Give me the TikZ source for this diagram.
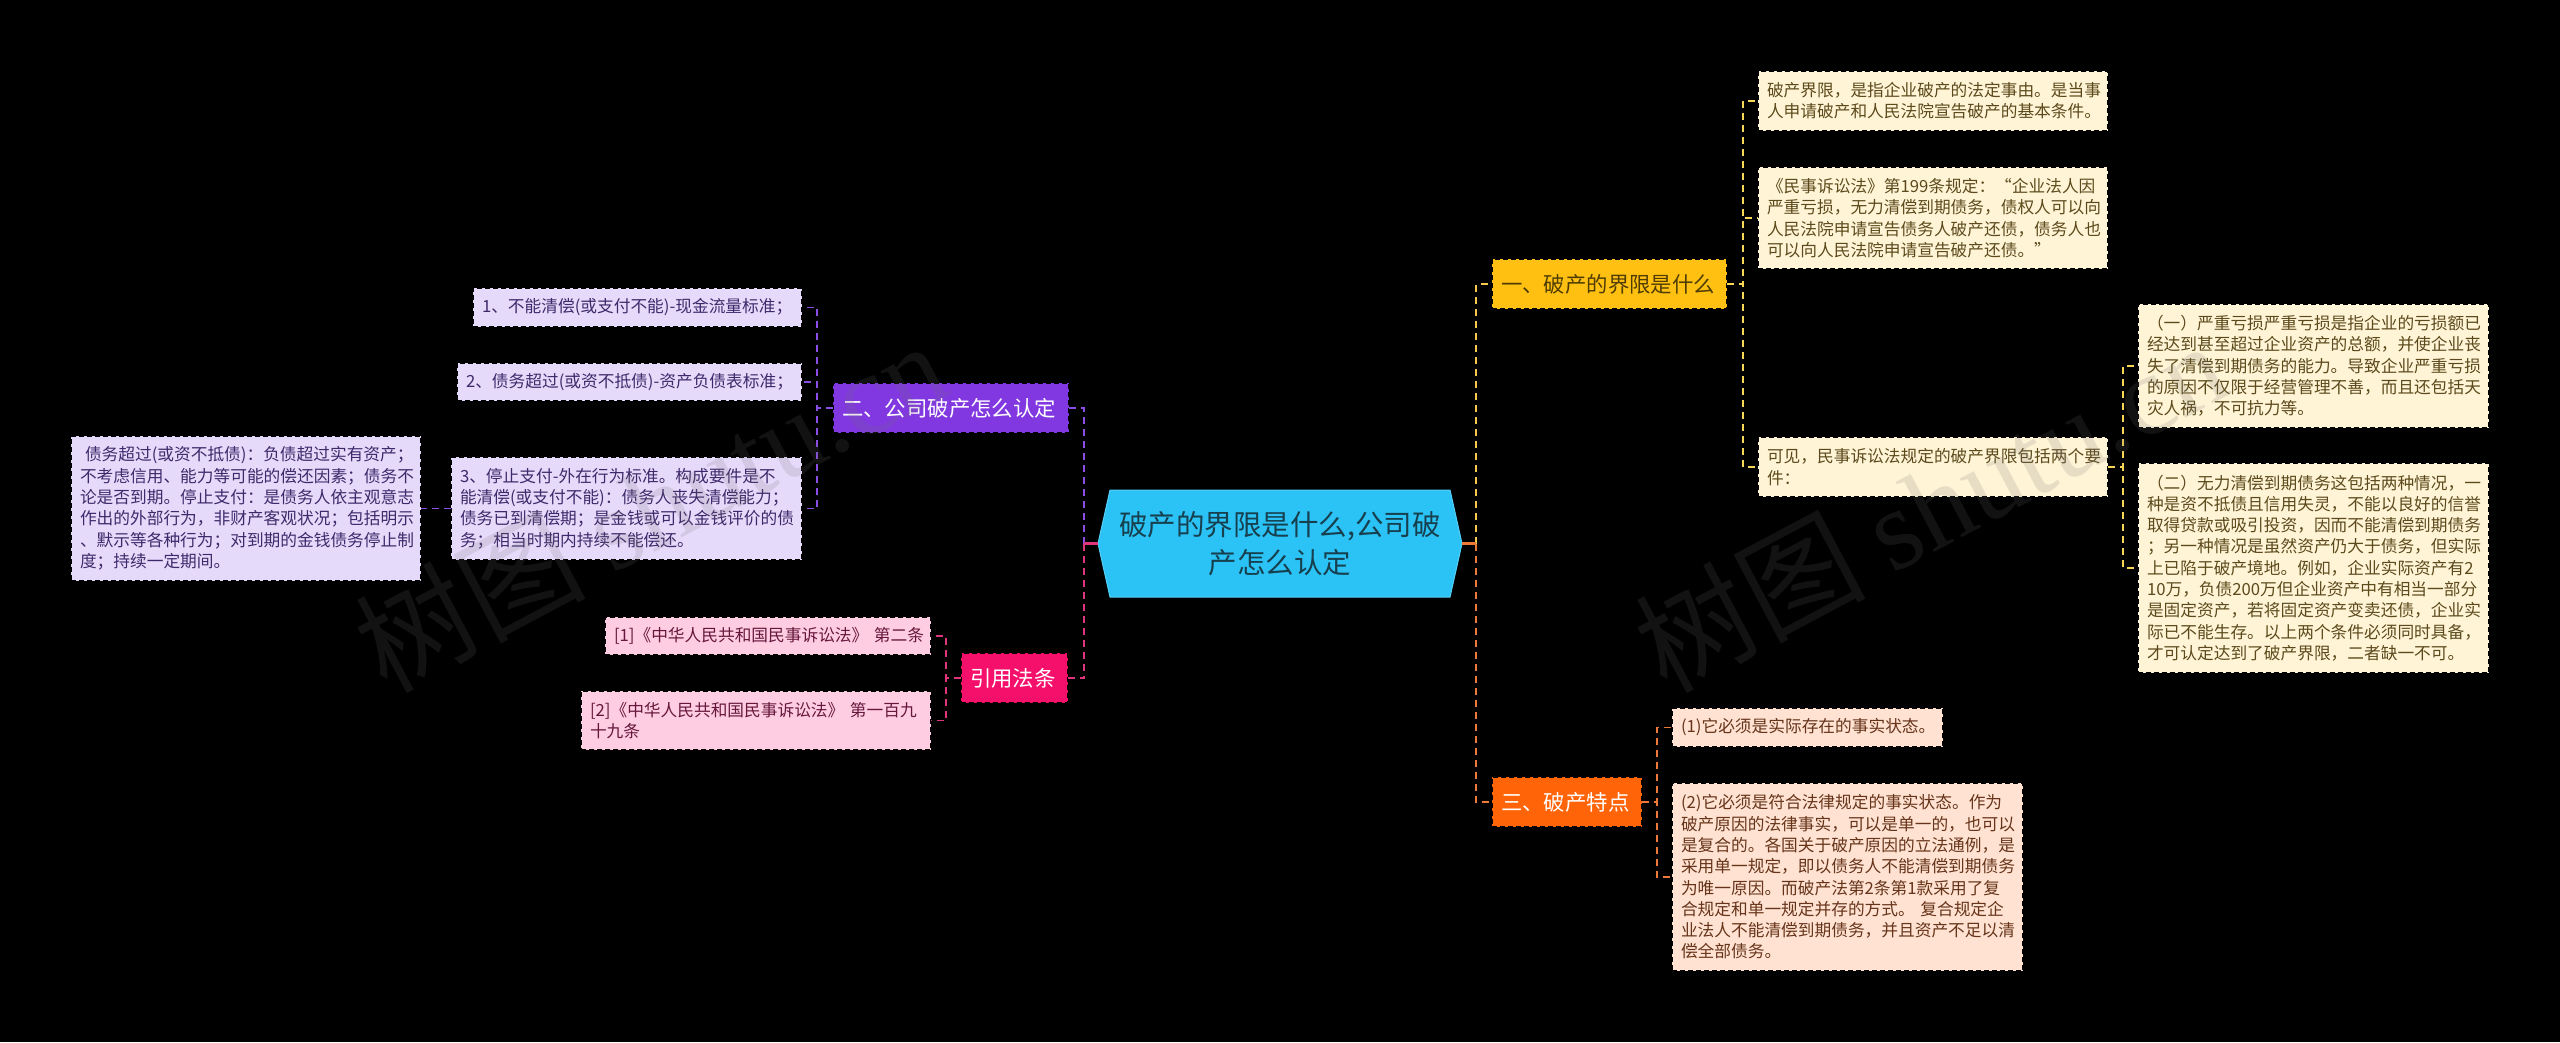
\documentclass[tikz,border=0pt]{standalone}
\usepackage{fontspec}
\setmainfont{Noto Sans CJK SC}
\newfontfamily\wmlatin{Liberation Serif}
\usetikzlibrary{calc}
\definecolor{rootc}{HTML}{2BC3F6}
\definecolor{roott}{HTML}{17404F}
\definecolor{yel}{HTML}{FFC012}
\definecolor{yelt}{HTML}{4F3D05}
\definecolor{pur}{HTML}{8238E0}
\definecolor{pnk}{HTML}{F5106C}
\definecolor{org}{HTML}{FF6408}
\definecolor{lyel}{HTML}{FFF4D6}
\definecolor{lpur}{HTML}{E6DAFB}
\definecolor{lpnk}{HTML}{FFCDE2}
\definecolor{lorg}{HTML}{FFE2D1}
\definecolor{tyel}{HTML}{5C4A1C}
\definecolor{tpur}{HTML}{3E2A6B}
\definecolor{tpnk}{HTML}{66183C}
\definecolor{torg}{HTML}{66341A}
\definecolor{cyel}{HTML}{F7D655}
\definecolor{cyelb}{HTML}{F6C84E}
\definecolor{cpur}{HTML}{8A4DE6}
\definecolor{cpnk}{HTML}{E0357C}
\definecolor{corg}{HTML}{EE7A3A}
\definecolor{wmgray}{HTML}{707070}
\tikzset{
  base/.style={draw=black,line width=1.6pt,dash pattern=on 5pt off 3pt,outer sep=0pt,anchor=north west,inner xsep=9pt,inner ysep=0pt,align=left},
  box/.style n args={2}{text width=#1pt-18pt,minimum height=#2pt},
  leaf/.style={base,font=\fontsize{16.7pt}{21.3pt}\selectfont},
  leafy/.style={leaf,fill=lyel,text=tyel},
  leafp/.style={leaf,fill=lpur,text=tpur},
  leafk/.style={leaf,fill=lpnk,text=tpnk},
  leafo/.style={leaf,fill=lorg,text=torg},
  branch/.style={base,font=\fontsize{21.4pt}{27pt}\selectfont},
  rootnode/.style={outer sep=0pt,inner sep=0pt,align=center,text=roott,minimum width=364pt,minimum height=107pt,font=\fontsize{28.5pt}{38pt}\selectfont},
  linkthin/.style={line width=1.5pt,dash pattern=on 7pt off 5pt},
  linkthick/.style={line width=2.4pt,dash pattern=on 7pt off 5pt},
  stub/.style={line width=2.4pt},
  wmark/.style={text=wmgray,text opacity=.17,rotate=28,font=\fontsize{115pt}{120pt}\selectfont}
}
\begin{document}
\begin{tikzpicture}[x=1pt,y=-1pt]
\useasboundingbox (0,0) rectangle (2560,1042);
\fill[black] (0,0) rectangle (2560,1042);

% central topic
\fill[rootc,draw=rootc!80!white,line width=1pt] (1098,543.5) -- (1110,490) -- (1450,490) -- (1462,543.5) -- (1450,597) -- (1110,597) -- cycle;
\node[rootnode] (root) at (1280,543.5) {破产的界限是什么,公司破\\产怎么认定};

% branches
\node[branch,fill=yel,text=yelt,box={235}{50}] (A) at (1492,259) {一、破产的界限是什么};
\node[branch,fill=org,text=white,box={150}{50}] (C) at (1492,777) {三、破产特点};
\node[branch,fill=pur,text=white,box={236}{50}] (D) at (833,383) {二、公司破产怎么认定};
\node[branch,fill=pnk,text=white,box={107}{50}] (F) at (961,653) {引用法条};

% yellow leaves
\node[leafy,box={350}{60}] (A1) at (1758,71) {破产界限，是指企业破产的法定事由。是当事\\人申请破产和人民法院宣告破产的基本条件。};
\node[leafy,box={350}{102}] (A2) at (1758,167) {《民事诉讼法》第199条规定：“企业法人因\\严重亏损，无力清偿到期债务，债权人可以向\\人民法院申请宣告债务人破产还债，债务人也\\可以向人民法院申请宣告破产还债。”};
\node[leafy,box={350}{60}] (A3) at (1758,437) {可见，民事诉讼法规定的破产界限包括两个要\\件：};
\node[leafy,box={351}{124}] (B1) at (2138,304) {（一）严重亏损严重亏损是指企业的亏损额已\\经达到甚至超过企业资产的总额，并使企业丧\\失了清偿到期债务的能力。导致企业严重亏损\\的原因不仅限于经营管理不善，而且还包括天\\灾人祸，不可抗力等。};
\node[leafy,box={351}{210}] (B2) at (2138,463) {（二）无力清偿到期债务这包括两种情况，一\\种是资不抵债且信用失灵，不能以良好的信誉\\取得贷款或吸引投资，因而不能清偿到期债务\\；另一种情况是虽然资产仍大于债务，但实际\\上已陷于破产境地。例如，企业实际资产有2\\10万，负债200万但企业资产中有相当一部分\\是固定资产，若将固定资产变卖还债，企业实\\际已不能生存。以上两个条件必须同时具备，\\才可认定达到了破产界限，二者缺一不可。};

% orange leaves
\node[leafo,box={271}{39}] (C1) at (1672,708) {(1)它必须是实际存在的事实状态。};
\node[leafo,box={351}{188}] (C2) at (1672,783) {(2)它必须是符合法律规定的事实状态。作为\\破产原因的法律事实，可以是单一的，也可以\\是复合的。各国关于破产原因的立法通例，是\\采用单一规定，即以债务人不能清偿到期债务\\为唯一原因。而破产法第2条第1款采用了复\\合规定和单一规定并存的方式。~复合规定企\\业法人不能清偿到期债务，并且资产不足以清\\偿全部债务。};

% purple leaves
\node[leafp,box={329}{39}] (D1) at (473,288) {1、不能清偿(或支付不能)-现金流量标准；};
\node[leafp,box={345}{38}] (D2) at (457,363) {2、债务超过(或资不抵债)-资产负债表标准；};
\node[leafp,box={351}{103}] (D3) at (451,457) {3、停止支付-外在行为标准。构成要件是不\\能清偿(或支付不能)：债务人丧失清偿能力；\\债务已到清偿期；是金钱或可以金钱评价的债\\务；相当时期内持续不能偿还。};
\node[leafp,box={350}{145}] (E) at (71,436) {\hspace*{5pt}债务超过(或资不抵债)：负债超过实有资产；\\不考虑信用、能力等可能的偿还因素；债务不\\论是否到期。停止支付：是债务人依主观意志\\作出的外部行为，非财产客观状况；包括明示\\、默示等各种行为；对到期的金钱债务停止制\\度；持续一定期间。};

% pink leaves
\node[leafk,box={326}{38}] (F1) at (605,617) {[1]《中华人民共和国民事诉讼法》~第二条};
\node[leafk,box={350}{59}] (F2) at (581,691) {[2]《中华人民共和国民事诉讼法》~第一百九\\十九条};

% connector trunks
\coordinate (tR) at (1476,543.5);
\coordinate (tL) at (1084,543.5);
\coordinate (tA) at (1743,284);
\coordinate (tB) at (2123,467);
\coordinate (tC) at (1657,803);
\coordinate (tD) at (817,408);
\coordinate (tF) at (946,678);

\draw[cyelb,linkthick] (tR) |- (A.west);
\draw[corg,linkthick] (tR) |- (C.west);
\draw[cpur,linkthick] (tL) |- (D.east);
\draw[cpnk,linkthick] (tL) |- (F.east);
\draw[corg,stub] (root.east) -- (tR);
\draw[cpnk,stub] (root.west) -- (tL);

\foreach \n in {A1,A2,A3} \draw[cyel,linkthin] (A.east) -- (tA |- A.east) |- (\n.west);
\foreach \n in {B1,B2} \draw[cyel,linkthin] (A3.east) -- (tB |- A3.east) |- (\n.west);
\foreach \n in {C1,C2} \draw[corg,linkthin] (C.east) -- (tC |- C.east) |- (\n.west);
\foreach \n in {D1,D2,D3} \draw[cpur,linkthin] (D.west) -- (tD |- D.west) |- (\n.east);
\draw[cpur,linkthin] (D3.west) -- (E.east);
\foreach \n in {F1,F2} \draw[cpnk,linkthin] (F.west) -- (tF |- F.west) |- (\n.east);

% watermarks
\node[wmark] (w1) at (650,505) {树图 {\wmlatin shutu.cn}};
\node[wmark] (w2) at (1930,505) {树图 {\wmlatin shutu.cn}};
\end{tikzpicture}
\end{document}
